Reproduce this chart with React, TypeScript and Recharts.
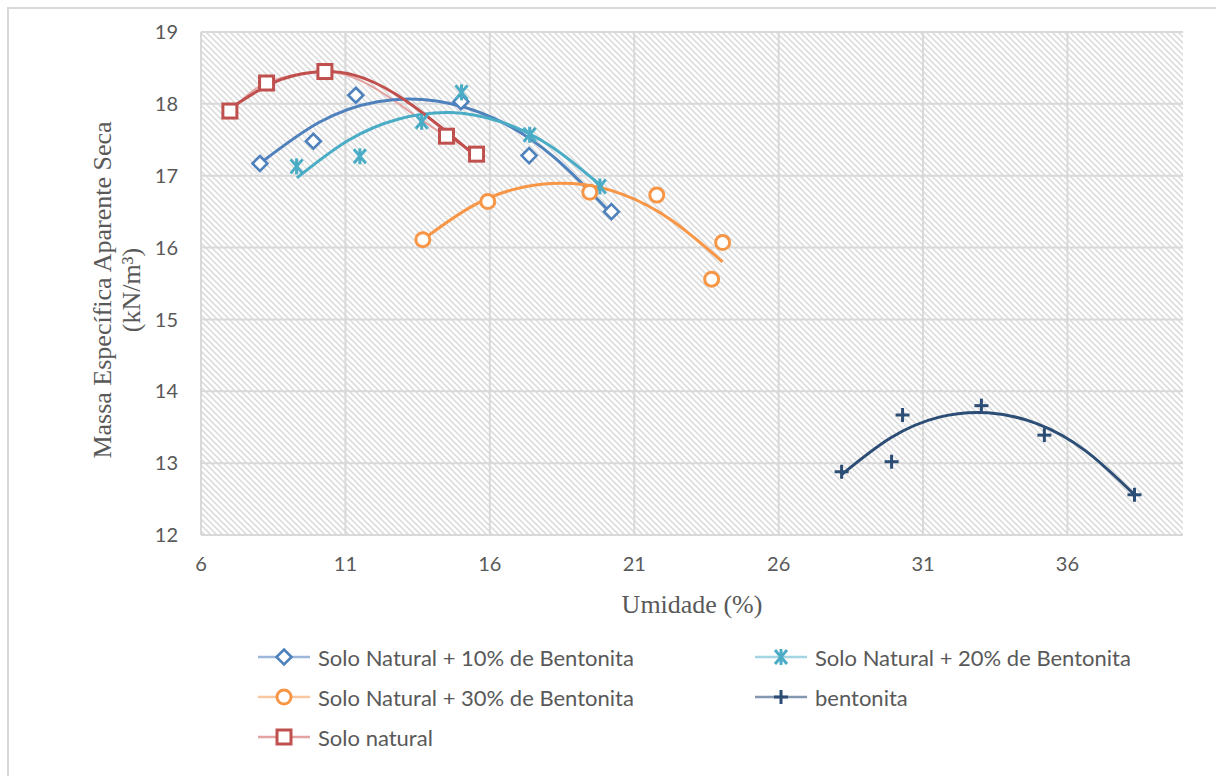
import React from 'react';
import { ComposedChart, Line, XAxis, YAxis, CartesianGrid } from 'recharts';

// ---- axis ticks ----
const xTicks = [6, 11, 16, 21, 26, 31, 36];
const yTicks = [12, 13, 14, 15, 16, 17, 18, 19];

// ---- measured points ----
const sn10X = [8.04, 9.89, 11.36, 15.0, 17.36, 20.21];
const sn10Y = [17.17, 17.48, 18.12, 18.03, 17.28, 16.5];

const sn20X = [9.31, 11.5, 13.64, 15.02, 17.38, 19.81];
const sn20Y = [17.13, 17.27, 17.75, 18.16, 17.57, 16.85];

const sn30X = [13.68, 15.93, 19.46, 21.78, 23.68, 24.06];
const sn30Y = [16.11, 16.64, 16.77, 16.73, 15.56, 16.07];

const bentX = [28.18, 29.91, 30.29, 33.02, 35.2, 38.32];
const bentY = [12.88, 13.02, 13.67, 13.8, 13.39, 12.56];

const snX = [7.0, 8.27, 10.29, 14.5, 15.54];
const snY = [17.9, 18.29, 18.45, 17.55, 17.3];

// ---- trend curves (evenly spaced readings) ----
const tr10X = [8.04, 10.08, 12.11, 14.15, 16.19, 18.22, 20.26];
const tr10Y = [17.17, 17.74, 18.03, 18.04, 17.79, 17.26, 16.45];

const tr20X = [9.32, 11.09, 12.85, 14.62, 16.38, 18.15, 19.91];
const tr20Y = [16.97, 17.49, 17.79, 17.88, 17.75, 17.4, 16.84];

const tr30X = [13.68, 15.41, 17.14, 18.87, 20.6, 22.33, 24.06];
const tr30Y = [16.11, 16.58, 16.84, 16.89, 16.74, 16.37, 15.8];

const trBX = [28.18, 29.87, 31.56, 33.25, 34.94, 36.63, 38.32];
const trBY = [12.84, 13.35, 13.64, 13.7, 13.55, 13.17, 12.56];

const trSX = [7.06, 8.475, 9.89, 11.305, 12.72, 14.135, 15.55];
const trSY = [17.95, 18.29, 18.44, 18.4, 18.14, 17.73, 17.26];

// ---- labels ----
const xTitle = 'Umidade (%)';
const yTitle1 = 'Massa Específica Aparente Seca';
const yTitle2 = '(kN/m³)';
const legendNames = [
  'Solo Natural + 10% de Bentonita',
  'Solo Natural + 20% de Bentonita',
  'Solo Natural + 30% de Bentonita',
  'bentonita',
  'Solo natural',
];

const pts = (xs: number[], ys: number[]) => xs.map((x, i) => ({ x, y: ys[i] }));

const C10 = '#4F81BD';
const C20 = '#4BACC6';
const C30 = '#F79646';
const CB = '#2C4D75';
const CS = '#C0504D';

type MK = 'diamond' | 'star' | 'circle' | 'plus' | 'square';

function Marker({ kind, cx, cy, color }: { kind: MK; cx: number; cy: number; color: string }) {
  if (cx == null || cy == null || isNaN(cx) || isNaN(cy)) return null;
  const sw = 3;
  switch (kind) {
    case 'diamond':
      return (
        <path
          d={`M${cx},${cy - 7.5} L${cx + 7.5},${cy} L${cx},${cy + 7.5} L${cx - 7.5},${cy} Z`}
          fill="#fff"
          stroke={color}
          strokeWidth={2.6}
        />
      );
    case 'square':
      return <rect x={cx - 7} y={cy - 7} width={14} height={14} fill="#fff" stroke={color} strokeWidth={sw} />;
    case 'circle':
      return <circle cx={cx} cy={cy} r={7} fill="#fff" stroke={color} strokeWidth={sw} />;
    case 'plus':
      return (
        <g stroke={color} strokeWidth={sw}>
          <line x1={cx - 7} y1={cy} x2={cx + 7} y2={cy} />
          <line x1={cx} y1={cy - 7} x2={cx} y2={cy + 7} />
        </g>
      );
    case 'star':
      return (
        <g stroke={color} strokeWidth={sw}>
          <line x1={cx} y1={cy - 8} x2={cx} y2={cy + 8} />
          <line x1={cx - 6} y1={cy - 7} x2={cx + 6} y2={cy + 7} />
          <line x1={cx + 6} y1={cy - 7} x2={cx - 6} y2={cy + 7} />
        </g>
      );
  }
  return null;
}

const dotFn = (kind: MK, color: string) => (props: any) => (
  <Marker key={`${kind}-${props.index}`} kind={kind} cx={props.cx} cy={props.cy} color={color} />
);

const legendItems: { name: string; kind: MK; color: string; light: string; left: number; top: number }[] = [
  { name: legendNames[0], kind: 'diamond', color: C10, light: '#9DB7DB', left: 258, top: 657 },
  { name: legendNames[1], kind: 'star', color: C20, light: '#A5D5E2', left: 755, top: 657 },
  { name: legendNames[2], kind: 'circle', color: C30, light: '#FAC8A0', left: 258, top: 697 },
  { name: legendNames[3], kind: 'plus', color: CB, light: '#8497B0', left: 755, top: 697 },
  { name: legendNames[4], kind: 'square', color: CS, light: '#E2A3A2', left: 258, top: 737 },
];

const tickStyle = { fill: '#595959', fontSize: 20, fontFamily: 'Lato, sans-serif' };

export default function App() {
  return (
    <div style={{ position: 'absolute', left: 0, top: 0, width: 1216, height: 776, background: '#fff', overflow: 'hidden' }}>
      <svg width={0} height={0} style={{ position: 'absolute' }}>
        <defs>
          <pattern id="hatch" width={6} height={6} patternUnits="userSpaceOnUse">
            <rect width={6} height={6} fill="#ffffff" />
            <path d="M-1,-1 L7,7 M-1,5 L1,7 M5,-1 L7,1" stroke="#d9d9d9" strokeWidth={1.5} />
          </pattern>
        </defs>
      </svg>
      <div
        style={{
          position: 'absolute',
          left: 7,
          top: 7,
          width: 1300,
          height: 900,
          borderTop: '2px solid #d9d9d9',
          borderLeft: '2px solid #d9d9d9',
        }}
      />
      <div style={{ position: 'absolute', left: 0, top: 0 }}>
        <ComposedChart width={1216} height={776} margin={{ top: 32, right: 33, left: 141, bottom: 201 }}>
          <CartesianGrid
            stroke="#d9d9d9"
            strokeWidth={2}
            fill="url(#hatch)"
            fillOpacity={1}
            horizontalValues={yTicks}
            verticalValues={xTicks}
          />
          <XAxis
            type="number"
            dataKey="x"
            domain={[6, 40]}
            ticks={xTicks}
            allowDataOverflow
            axisLine={false}
            tickLine={false}
            tickSize={0}
            tickMargin={22}
            height={40}
            tick={tickStyle}
          />
          <YAxis
            type="number"
            dataKey="y"
            domain={[12, 19]}
            ticks={yTicks}
            allowDataOverflow
            axisLine={false}
            tickLine={false}
            tickSize={0}
            tickMargin={23}
            width={60}
            tick={tickStyle}
          />
          {/* series line of Solo natural */}
          <Line data={pts(snX, snY)} dataKey="y" type="monotone" stroke="#E2A3A2" strokeWidth={2} dot={false} isAnimationActive={false} />
          {/* markers */}
          <Line data={pts(sn10X, sn10Y)} dataKey="y" stroke="none" dot={dotFn('diamond', C10)} isAnimationActive={false} />
          <Line data={pts(sn20X, sn20Y)} dataKey="y" stroke="none" dot={dotFn('star', C20)} isAnimationActive={false} />
          <Line data={pts(sn30X, sn30Y)} dataKey="y" stroke="none" dot={dotFn('circle', C30)} isAnimationActive={false} />
          <Line data={pts(bentX, bentY)} dataKey="y" stroke="none" dot={dotFn('plus', CB)} isAnimationActive={false} />
          <Line data={pts(snX, snY)} dataKey="y" stroke="none" dot={dotFn('square', CS)} isAnimationActive={false} />
          {/* trend curves */}
          <Line data={pts(tr10X, tr10Y)} dataKey="y" type="natural" stroke={C10} strokeWidth={3} dot={false} isAnimationActive={false} />
          <Line data={pts(tr20X, tr20Y)} dataKey="y" type="natural" stroke={C20} strokeWidth={3} dot={false} isAnimationActive={false} />
          <Line data={pts(tr30X, tr30Y)} dataKey="y" type="natural" stroke={C30} strokeWidth={3} dot={false} isAnimationActive={false} />
          <Line data={pts(trBX, trBY)} dataKey="y" type="natural" stroke={CB} strokeWidth={3} dot={false} isAnimationActive={false} />
          <Line data={pts(trSX, trSY)} dataKey="y" type="natural" stroke={CS} strokeWidth={3} dot={false} isAnimationActive={false} />
        </ComposedChart>
      </div>
      <svg width={1216} height={776} style={{ position: 'absolute', left: 0, top: 0, pointerEvents: 'none' }}>
        <text x={692} y={604} textAnchor="middle" dominantBaseline="central" fontFamily="'Liberation Serif', serif" fontSize={26} fill="#595959">
          {xTitle}
        </text>
        <text
          transform="translate(102,290) rotate(-90)"
          textAnchor="middle"
          dominantBaseline="central"
          fontFamily="'Liberation Serif', serif"
          fontSize={26}
          fill="#595959"
        >
          {yTitle1}
        </text>
        <text
          transform="translate(131,290) rotate(-90)"
          textAnchor="middle"
          dominantBaseline="central"
          fontFamily="'Liberation Serif', serif"
          fontSize={26}
          fill="#595959"
        >
          {yTitle2}
        </text>
        {legendItems.map((it) => (
          <g key={it.name}>
            <line x1={it.left} y1={it.top} x2={it.left + 52} y2={it.top} stroke={it.light} strokeWidth={2.5} />
            <Marker kind={it.kind} cx={it.left + 26} cy={it.top} color={it.color} />
            <text x={it.left + 60} y={it.top} dominantBaseline="central" fontFamily="Lato, sans-serif" fontSize={22} fill="#595959">
              {it.name}
            </text>
          </g>
        ))}
      </svg>
    </div>
  );
}
